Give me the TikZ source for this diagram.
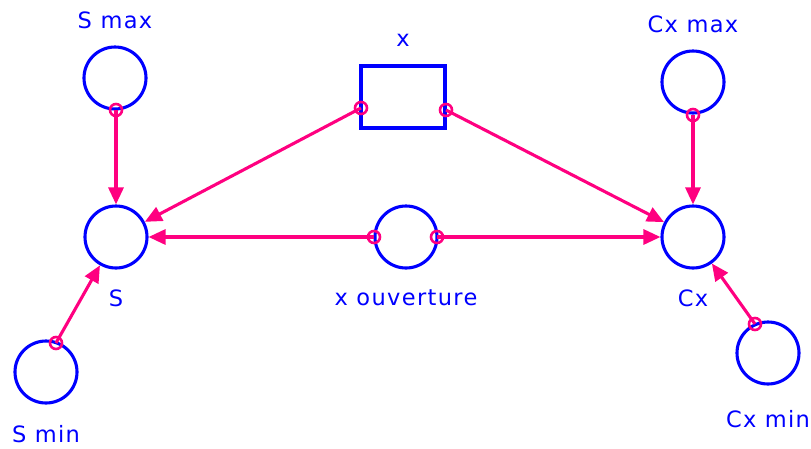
\documentclass[tikz,border=0pt]{standalone}
\usepackage{fontspec}
\setmainfont{DejaVu Sans}[LetterSpace=6]
\usetikzlibrary{arrows.meta}
\definecolor{vblue}{RGB}{0,0,255}
\definecolor{vpink}{RGB}{255,0,128}
\begin{document}
\begin{tikzpicture}[x=1pt,y=-1pt,
  varc/.style={circle,draw=vblue,line width=3.1pt,minimum size=62pt,inner sep=0pt},
  varbox/.style={rectangle,draw=vblue,line width=3.1pt,minimum width=84pt,minimum height=62pt,inner sep=0pt},
  port/.style={circle,draw=vpink,line width=2.6pt,minimum size=12pt,inner sep=0pt},
  lbl/.style={text=vblue,font=\fontsize{22.5}{26}\selectfont,inner sep=0pt},
  link/.style={draw=vpink,line width=3.1pt,-{Triangle[length=17pt,width=15pt]}}]
\useasboundingbox (0,0) rectangle (811,448);
% variables
\node[varc] (smax) at (115,78) {};
\node[varc] (s) at (116,237) {};
\node[varc] (smin) at (46,372) {};
\node[varbox] (x) at (403,97) {};
\node[varc] (xo) at (406,237) {};
\node[varc] (cxmax) at (693,82) {};
\node[varc] (cx) at (693,237) {};
\node[varc] (cxmin) at (768,353) {};
% labels
\node[lbl] (lsmax) at (115,20) {S max};
\node[lbl] (ls) at (116,298) {S};
\node[lbl] (lsmin) at (46,434) {S min};
\node[lbl] (lx) at (403,40) {x};
\node[lbl] (lxo) at (406,298) {x ouverture};
\node[lbl] (lcxmax) at (693,24) {Cx max};
\node[lbl] (lcx) at (693,298) {Cx};
\node[lbl] (lcxmin) at (768,419) {Cx min};
% ports
\node[port] (psmax) at (116,110) {};
\node[port] (psmin) at (56,343) {};
\node[port] (pxl) at (361,108) {};
\node[port] (pxr) at (446,110) {};
\node[port] (pxol) at (374,237) {};
\node[port] (pxor) at (437,237) {};
\node[port] (pcxmax) at (693,115) {};
\node[port] (pcxmin) at (755,324) {};
% links
\draw[link] (psmax.center) -- (s);
\draw[link] (psmin.center) -- (s);
\draw[link] (pxl.center) -- (s);
\draw[link] (pxol.center) -- (s);
\draw[link] (pxor.center) -- (cx);
\draw[link] (pxr.center) -- (cx);
\draw[link] (pcxmax.center) -- (cx);
\draw[link] (pcxmin.center) -- (cx);
\end{tikzpicture}
\end{document}
